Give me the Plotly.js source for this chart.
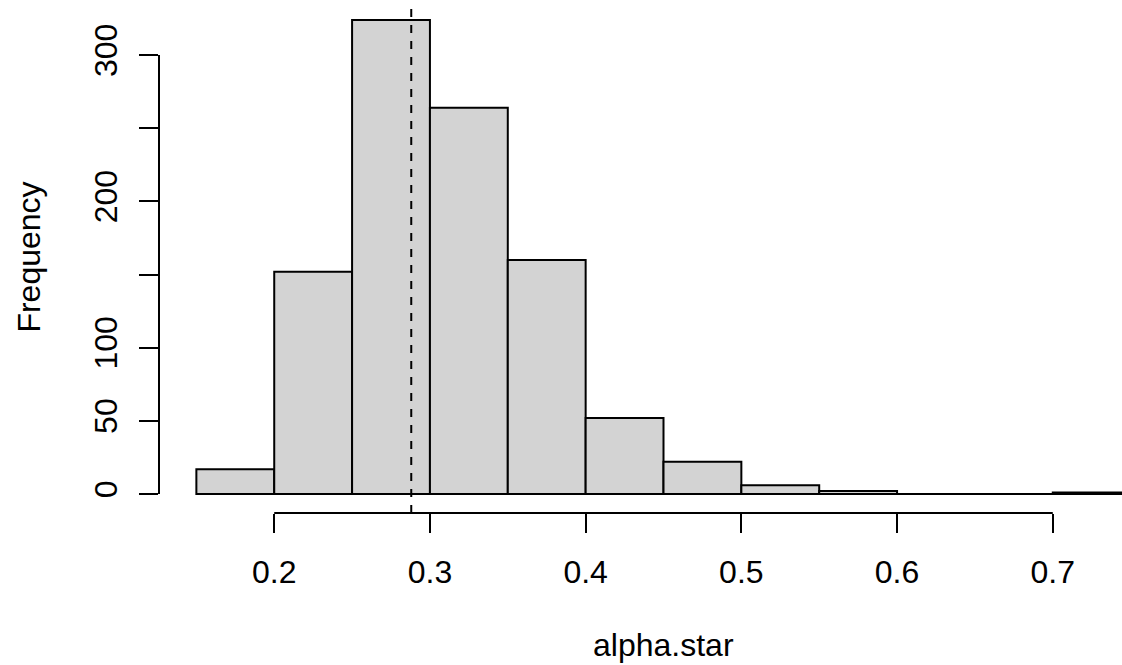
<!DOCTYPE html>
<html>
<head>
<meta charset="utf-8">
<script src="https://cdn.plot.ly/plotly-3.0.1.min.js"></script>
<style>html,body{margin:0;padding:0;background:#fff;}#chart{width:1122px;height:665px;}</style>
</head>
<body>
<div id="chart"></div>
<script>
// Histogram data (bin breaks and counts)
const breaks = [0.15, 0.20, 0.25, 0.30, 0.35, 0.40, 0.45, 0.50, 0.55, 0.60, 0.65, 0.70, 0.75];
const counts = [17, 152, 324, 264, 160, 52, 22, 6, 2, 0, 0, 1];
const refLine = 0.288;
const xTickVals = [0.2, 0.3, 0.4, 0.5, 0.6, 0.7];
const xTickText = ["0.2", "0.3", "0.4", "0.5", "0.6", "0.7"];
const yTickVals = [0, 50, 100, 150, 200, 250, 300];
const yTickText = ["0", "50", "100", "", "200", "", "300"];
const xLabel = "alpha.star";
const yLabel = "Frequency";

const mids = counts.map((c, i) => (breaks[i] + breaks[i + 1]) / 2);
const widths = counts.map((c, i) => breaks[i + 1] - breaks[i]);

const FONT = "Liberation Sans, Arial, Helvetica, sans-serif";
const FS = 32;

const xmin = breaks[0], xmax = breaks[breaks.length - 1];
const xpad = (xmax - xmin) * 0.04;
const ymax = Math.max(...counts);
const ypad = ymax * 0.04;
const plotW = 1122 - 159;
const fullW = (xmax + xpad) - (xmin - xpad);
const fullPx = 1009;
const xr = [xmin - xpad, xmin - xpad + fullW * plotW / fullPx];

const trace = {
  type: "bar",
  x: mids,
  y: counts,
  width: widths,
  marker: { color: "#D3D3D3", line: { color: "#000", width: 2 } },
  hoverinfo: "x+y",
  cliponaxis: true
};

const layout = {
  width: 1122, height: 665, autosize: false,
  margin: { l: 159, r: 0, t: 1, b: 152, pad: 0 },
  paper_bgcolor: "#fff", plot_bgcolor: "#fff",
  showlegend: false,
  font: { family: FONT, size: FS, color: "#000" },
  bargap: 0,
  xaxis: {
    range: xr, showgrid: false, zeroline: false, showline: false,
    tickmode: "array", tickvals: xTickVals, ticktext: xTickText,
    ticks: "outside", ticklen: 19, tickwidth: 2, tickcolor: "#000",
    ticklabelstandoff: 12,
    tickfont: { family: FONT, size: FS, color: "#000" },
    automargin: false
  },
  yaxis: {
    range: [-ypad, ymax + ypad], showgrid: false, zeroline: false, showline: false,
    tickmode: "array", tickvals: yTickVals, ticktext: yTickText,
    ticks: "outside", ticklen: 19, tickwidth: 2, tickcolor: "#000",
    tickangle: -90, ticklabelstandoff: 9,
    tickfont: { family: FONT, size: FS, color: "#000" },
    title: { text: yLabel, font: { family: FONT, size: FS, color: "#000" }, standoff: 38 },
    automargin: false
  },
  annotations: [
    { text: xLabel, xref: "x", yref: "paper", x: (xmin + xmax) / 2, y: -0.258,
      xanchor: "center", yanchor: "middle", showarrow: false,
      font: { family: FONT, size: FS, color: "#000" } }
  ],
  shapes: [
    { type: "line", xref: "x", yref: "paper", x0: xTickVals[0], x1: xTickVals[xTickVals.length - 1], y0: 0, y1: 0, line: { color: "#000", width: 2 } },
    { type: "line", xref: "paper", yref: "y", x0: 0, x1: 0, y0: yTickVals[0], y1: yTickVals[yTickVals.length - 1], line: { color: "#000", width: 2 } },
    { type: "line", xref: "x", yref: "y", x0: xmin, x1: xmax, y0: 0, y1: 0, line: { color: "#000", width: 2 } },
    { type: "line", xref: "x", yref: "paper", x0: refLine, x1: refLine, y0: 0, y1: 1, line: { color: "#000", width: 2, dash: "8px,8px" } }
  ]
};

Plotly.newPlot("chart", [trace], layout, { displayModeBar: false, staticPlot: true });
</script>
</body>
</html>
